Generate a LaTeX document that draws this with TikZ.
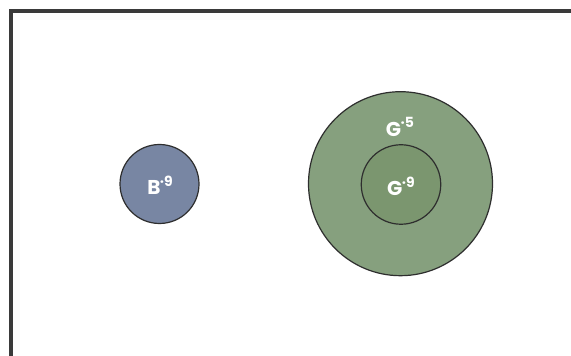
\documentclass[tikz,border=0pt]{standalone}
\usepackage{fontspec}
\setmainfont{Poppins}
\definecolor{bfill}{HTML}{7886A3}
\definecolor{gout}{HTML}{86A07E}
\definecolor{gin}{HTML}{7B966F}
\definecolor{frame}{HTML}{3A3A3A}
\definecolor{edge}{HTML}{2E2E2E}
\newcommand{\suplab}[2]{#1\raisebox{0.42em}{\fontsize{14}{14}\selectfont\kern-0.5pt·#2}}
\begin{document}
\begin{tikzpicture}[x=1pt,y=1pt,
  disc/.style={circle,draw=edge,line width=1.2pt,inner sep=0pt},
  lab/.style={text=white,font=\fontsize{20}{21}\selectfont\bfseries,inner sep=0pt}]
\useasboundingbox (0,0) rectangle (571,356);
\fill[white] (0,0) rectangle (571,356);
\draw[frame,line width=4.5pt] (11,-10) -- (11,345) -- (590,345);
\node[disc,fill=bfill,minimum size=79pt] (b9) at (159.5,172) {};
\node[disc,fill=gout,minimum size=184pt] (g5) at (400.5,172.3) {};
\node[disc,fill=gin,minimum size=79.5pt] (g9) at (401,171.5) {};
\node[lab] (lb) at (160,171) {\suplab{B}{9}};
\node[lab] (lg5) at (400,229) {\suplab{G}{5}};
\node[lab] (lg9) at (401,169.5) {\suplab{G}{9}};
\end{tikzpicture}
\end{document}
